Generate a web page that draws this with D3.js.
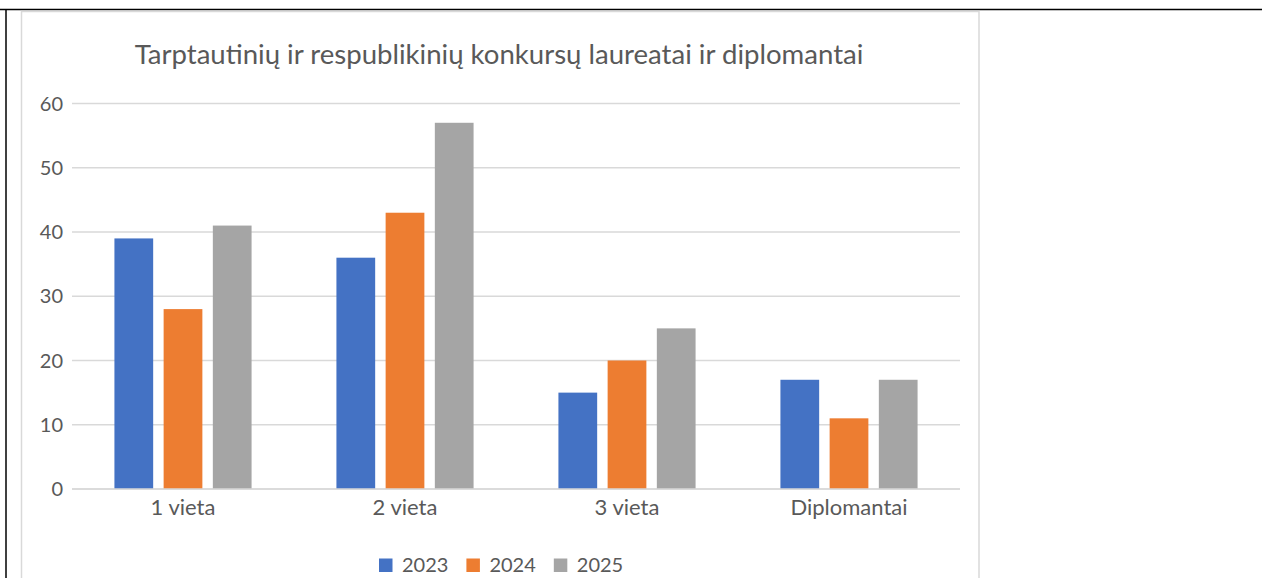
<!DOCTYPE html>
<html>
<head>
<meta charset="utf-8">
<script src="https://cdn.jsdelivr.net/npm/d3@7"></script>
<style>
  body { margin: 0; background: #fff; }
  svg { display: block; font-family: Lato, "Open Sans", sans-serif; }
</style>
</head>
<body>
<div id="chart"></div>
<script>
// chart data
var categories = ["1 vieta", "2 vieta", "3 vieta", "Diplomantai"];
var years = ["2023", "2024", "2025"];
var values2023 = [39, 36, 15, 17];
var values2024 = [28, 43, 20, 11];
var values2025 = [41, 57, 25, 17];
var yTicks = [0, 10, 20, 30, 40, 50, 60];
var title = "Tarptautinių ir respublikinių konkursų laureatai ir diplomantai";

var seriesColor = d3.scaleOrdinal()
    .domain(years)
    .range(["#4472c4", "#ed7d31", "#a5a5a5"]);

var seriesValues = { "2023": values2023, "2024": values2024, "2025": values2025 };

var W = 1262, H = 578;
var plot = {left: 72, right: 960, top: 103.5, bottom: 489};

var svg = d3.select("#chart")
    .append("svg")
    .attr("width", W)
    .attr("height", H);

// page frame (black) and chart area border (light gray)
svg.append("line").attr("x1", 0).attr("x2", W).attr("y1", 9.5).attr("y2", 9.5)
    .attr("stroke", "#000").attr("stroke-width", 1.5);
svg.append("line").attr("x1", 6).attr("x2", 6).attr("y1", 9).attr("y2", H)
    .attr("stroke", "#000").attr("stroke-width", 1.5);
svg.append("rect")
    .attr("x", 21.5).attr("y", 11.5)
    .attr("width", 979 - 21.5).attr("height", H)
    .attr("fill", "none")
    .attr("stroke", "#d9d9d9")
    .attr("stroke-width", 1.5);

// title
var titleText = svg.append("text")
    .attr("x", 499)
    .attr("y", 64)
    .attr("text-anchor", "middle")
    .attr("fill", "#595959")
    .style("font-size", "26px")
    .text(title);
// fit the title to the width seen in the reference
var tw = titleText.node().getComputedTextLength();
titleText.style("font-size", (26 * 729 / tw) + "px");

// scales
var y = d3.scaleLinear().domain([0, 60]).range([plot.bottom, plot.top]);

var x0 = d3.scaleBand()
    .domain(categories)
    .range([plot.left, plot.right])
    .paddingInner(0)
    .paddingOuter(0);

// Excel-ish: gap width 219%, overlap -27%
var bw = x0.bandwidth() / (3 + 2 * 0.27 + 2.19);
var groupW = bw * (3 + 2 * 0.27);
var x1 = d3.scaleBand()
    .domain(years)
    .range([0, groupW])
    .paddingInner(0.27 / 1.27);

// gridlines
svg.append("g")
    .selectAll("line")
    .data(yTicks)
    .enter()
    .append("line")
    .attr("x1", plot.left)
    .attr("x2", plot.right)
    .attr("y1", function(d) { return y(d); })
    .attr("y2", function(d) { return y(d); })
    .attr("stroke", "#d9d9d9")
    .attr("stroke-width", 1.3);

// y tick labels
svg.append("g")
    .selectAll("text")
    .data(yTicks)
    .enter()
    .append("text")
    .attr("x", 63)
    .attr("y", function(d) { return y(d) + 7; })
    .attr("text-anchor", "end")
    .attr("fill", "#595959")
    .style("font-size", "20px")
    .text(function(d) { return d; });

// bars
var groups = svg.append("g")
    .selectAll("g")
    .data(categories)
    .enter()
    .append("g")
    .attr("transform", function(d) {
        return "translate(" + (x0(d) + (x0.bandwidth() - groupW) / 2) + ",0)";
    });

groups.selectAll("rect")
    .data(function(d, i) {
        return years.map(function(yr) { return {year: yr, value: seriesValues[yr][i]}; });
    })
    .enter()
    .append("rect")
    .attr("x", function(d) { return x1(d.year); })
    .attr("width", x1.bandwidth())
    .attr("y", function(d) { return y(d.value); })
    .attr("height", function(d) { return y(0) - y(d.value); })
    .attr("fill", function(d) { return seriesColor(d.year); });

// redraw the baseline on top of the bars
svg.append("line")
    .attr("x1", plot.left).attr("x2", plot.right)
    .attr("y1", y(0)).attr("y2", y(0))
    .attr("stroke", "#d9d9d9").attr("stroke-width", 1.3);

// category labels
svg.append("g")
    .selectAll("text")
    .data(categories)
    .enter()
    .append("text")
    .attr("x", function(d) { return x0(d) + x0.bandwidth() / 2; })
    .attr("y", 515)
    .attr("text-anchor", "middle")
    .attr("fill", "#595959")
    .style("font-size", "22px")
    .text(function(d) { return d; });

// legend
var legend = svg.append("g");
var lx = 379;
years.forEach(function(yr) {
    legend.append("rect")
        .attr("x", lx).attr("y", 558.5)
        .attr("width", 13.5).attr("height", 13.5)
        .attr("fill", seriesColor(yr));
    var t = legend.append("text")
        .attr("x", lx + 23)
        .attr("y", 572)
        .attr("fill", "#595959")
        .style("font-size", "20px")
        .text(yr);
    lx = lx + 23 + t.node().getComputedTextLength() + 18;
});
</script>
</body>
</html>
